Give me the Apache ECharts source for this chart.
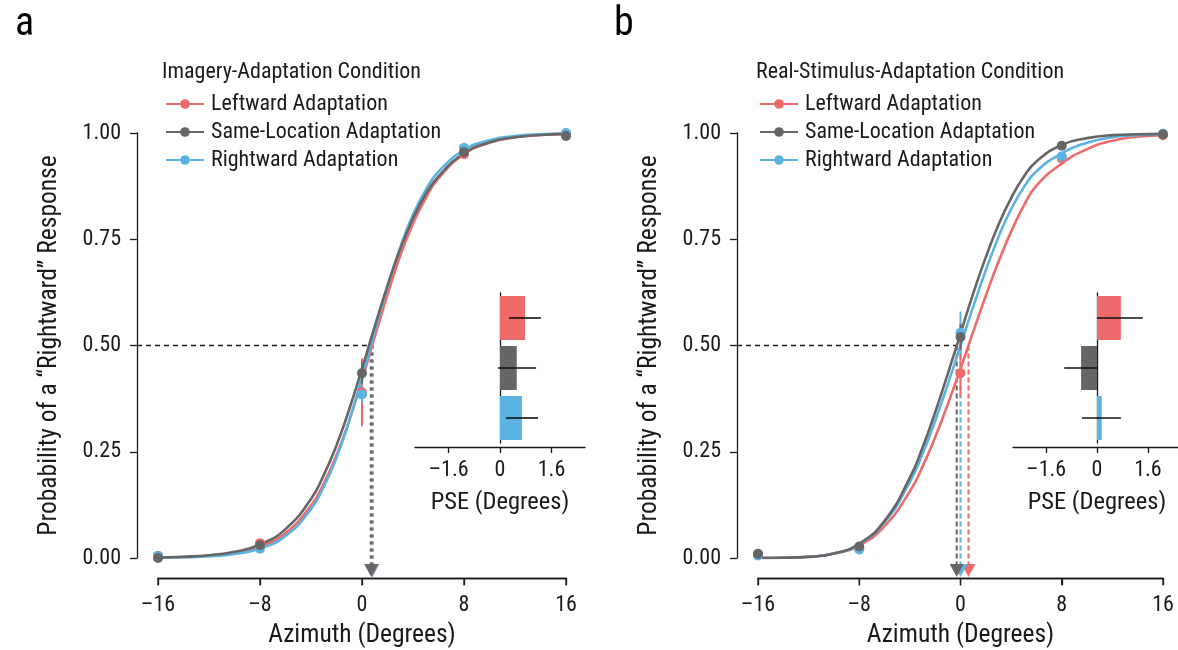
<!DOCTYPE html>
<html><head><meta charset="utf-8">
<script src="https://cdn.jsdelivr.net/npm/echarts@6/dist/echarts.min.js"></script>
<style>html,body{margin:0;padding:0;background:#fff}#c{width:1178px;height:650px}</style>
</head><body><div id="c"></div>
<script>
// ---------- data ----------
const conditions = ['Leftward Adaptation', 'Same-Location Adaptation', 'Rightward Adaptation'];
const colors = ['#ef6a6a', '#666666', '#5ab3e3'];
const xTicks = [-16, -8, 0, 8, 16];
const yTicks = [0, 0.25, 0.5, 0.75, 1];
const pseTicks = [-1.6, 0, 1.6];

const curveX = [-16,-14,-12,-10,-8,-6,-4,-3,-2,-1,0,1,2,3,4,5,6,8,10,12,14,16];
// panel a (imagery adaptation) fitted curves
const aCurveLeft  = [0.001,0.0024,0.0054,0.012,0.0268,0.0586,0.1236,0.175,0.242,0.324,0.419,0.520,0.620,0.711,0.787,0.847,0.893,0.950,0.977,0.990,0.9955,0.998];
const aCurveSame  = [0.0013,0.003,0.0066,0.0145,0.0317,0.068,0.139,0.195,0.265,0.350,0.445,0.545,0.641,0.727,0.799,0.856,0.898,0.952,0.978,0.990,0.9954,0.998];
const aCurveRight = [0.0007,0.0017,0.004,0.0095,0.0223,0.0516,0.115,0.167,0.236,0.323,0.425,0.533,0.638,0.731,0.808,0.866,0.909,0.960,0.983,0.9927,0.9969,0.9987];
// panel b (real-stimulus adaptation) fitted curves
const bCurveLeft  = [0.0001,0.0007,0.003,0.0104,0.030,0.075,0.157,0.215,0.284,0.362,0.445,0.532,0.617,0.697,0.768,0.829,0.876,0.928,0.962,0.982,0.991,0.995];
const bCurveSame  = [0.0001,0.0006,0.0026,0.0104,0.0336,0.0874,0.189,0.260,0.343,0.434,0.528,0.622,0.708,0.784,0.847,0.897,0.933,0.972,0.988,0.995,0.997,0.998];
const bCurveRight = [0.0001,0.0006,0.0029,0.0107,0.033,0.084,0.179,0.245,0.323,0.409,0.500,0.591,0.677,0.755,0.821,0.872,0.910,0.952,0.977,0.990,0.995,0.997];

const pointX = [-16, -8, 0, 8, 16];
const aPtLeft  = [0.005, 0.035, 0.39, 0.95, 0.998];
const aPtSame  = [0.0, 0.03, 0.435, 0.955, 0.993];
const aPtRight = [0.005, 0.022, 0.385, 0.965, 1.0];
const aErrLeft  = [0, 0.01, 0.08, 0.01, 0];
const aErrSame  = [0, 0.005, 0.025, 0.005, 0];
const aErrRight = [0, 0.005, 0.02, 0.012, 0];
const bPtLeft  = [0.008, 0.022, 0.435, 0.94, 0.995];
const bPtSame  = [0.01, 0.027, 0.52, 0.97, 0.997];
const bPtRight = [0.006, 0.02, 0.53, 0.945, 0.998];
const bErrLeft  = [0, 0.008, 0.055, 0.015, 0];
const bErrSame  = [0, 0.005, 0.03, 0.005, 0];
const bErrRight = [0, 0.005, 0.05, 0.01, 0];

// PSE arrows on main plots (azimuth at 50%)
const aArrowX = [0.82, 0.72, 0.78];
const bArrowX = [0.63, -0.30, 0.0];
// inset PSE bars and error ranges
const aPSE = [0.78, 0.52, 0.68];
const aPSELo = [0.28, -0.06, 0.19];
const aPSEHi = [1.27, 1.12, 1.18];
const bPSE = [0.75, -0.50, 0.15];
const bPSELo = [0.0, -1.03, -0.47];
const bPSEHi = [1.44, 0.0, 0.75];

// ---------- helpers ----------
const FONT = "'Liberation Sans Narrow','Arial Narrow','Roboto Condensed','Liberation Sans',sans-serif";
const TXT = '#1a1a1a';
const X_OFF = 20, Y_OFF = 21;
const dashFmt = v => String(v).replace('-', '\u2013');
const zip = (xs, ys) => xs.map((x, i) => [x, ys[i]]);
const errData = (xs, ys, es) => xs.map((x, i) => [x, ys[i] - es[i], ys[i] + es[i]]).filter((d, i) => es[i] > 0);

function mainXAxis(gi) {
  return {
    type: 'value', gridIndex: gi, min: xTicks[0], max: xTicks[xTicks.length - 1], interval: 8, offset: X_OFF, position: 'bottom',
    axisLine: { show: true, onZero: false, lineStyle: { color: TXT, width: 1.3 } },
    axisTick: { show: true, length: 7, lineStyle: { color: TXT, width: 1.3 } },
    splitLine: { show: false },
    axisLabel: { fontFamily: FONT, fontSize: 22, color: TXT, margin: 16, formatter: dashFmt },
    name: 'Azimuth (Degrees)', nameLocation: 'middle', nameGap: 45,
    nameTextStyle: { fontFamily: FONT, fontSize: 25.5, color: TXT }
  };
}
function mainYAxis(gi) {
  return {
    type: 'value', gridIndex: gi, min: 0, max: 1, interval: 0.25, offset: Y_OFF, position: 'left',
    axisLine: { show: true, onZero: false, lineStyle: { color: TXT, width: 1.3 } },
    axisTick: { show: true, length: 7, lineStyle: { color: TXT, width: 1.3 } },
    splitLine: { show: false },
    axisLabel: { fontFamily: FONT, fontSize: 22, color: TXT, margin: 16, formatter: v => v.toFixed(2) },
    name: 'Probability of a \u201CRightward\u201D Response', nameLocation: 'middle', nameGap: 74,
    nameTextStyle: { fontFamily: FONT, fontSize: 25.5, color: TXT }
  };
}
function insetXAxis(gi) {
  return {
    type: 'value', gridIndex: gi, min: -2.64, max: 2.64, offset: 4, position: 'bottom',
    axisLine: { show: true, onZero: false, lineStyle: { color: TXT, width: 1.3 } },
    axisTick: { show: true, length: 6, customValues: pseTicks, lineStyle: { color: TXT, width: 1.3 } },
    splitLine: { show: false },
    axisLabel: { fontFamily: FONT, fontSize: 22, color: TXT, margin: 12, customValues: pseTicks, formatter: dashFmt },
    name: 'PSE (Degrees)', nameLocation: 'middle', nameGap: 43,
    nameTextStyle: { fontFamily: FONT, fontSize: 24.5, color: TXT }
  };
}
function insetYAxis(gi) {
  return {
    type: 'category', gridIndex: gi, data: conditions, inverse: true,
    axisLine: { show: true, onZero: true, lineStyle: { color: TXT, width: 1.3 } },
    axisTick: { show: false }, axisLabel: { show: false }, splitLine: { show: false }
  };
}

// draws the offset x-axis baseline and tick marks of a main panel through the axis scale
function xAxisLineSeries(gi) {
  return {
    type: 'custom', name: 'xaxis' + gi, xAxisIndex: gi, yAxisIndex: gi, z: 6, silent: true, clip: false,
    data: xTicks.map(v => [v, 0]),
    renderItem: function (params, api) {
      const p = api.coord([api.value(0), api.value(1)]);
      const y = Math.round(p[1] + X_OFF) + 0.5;
      const children = [{ type: 'line', shape: { x1: p[0], y1: y, x2: p[0], y2: y + 7 },
        style: { stroke: TXT, lineWidth: 1.3 } }];
      if (params.dataIndex === 0) {
        const q = api.coord([xTicks[xTicks.length - 1], 0]);
        children.push({ type: 'line', shape: { x1: p[0] - 0.6, y1: y, x2: q[0] + 0.6, y2: y },
          style: { stroke: TXT, lineWidth: 1.3 } });
      }
      return { type: 'group', children: children };
    }
  };
}
function curveSeries(gi, name, ys, ci) {
  return {
    type: 'line', name: name, xAxisIndex: gi, yAxisIndex: gi,
    data: zip(curveX, ys), smooth: true,
    symbol: 'circle', symbolSize: 9, showSymbol: false,
    lineStyle: { color: colors[ci], width: 2.6 }, itemStyle: { color: colors[ci] },
    z: 3, silent: true
  };
}
function pointSeries(gi, ys, ci) {
  return {
    type: 'scatter', name: 'pts' + gi + ci, xAxisIndex: gi, yAxisIndex: gi,
    data: zip(pointX, ys), symbolSize: 10, itemStyle: { color: colors[ci], opacity: 1 }, z: 4, silent: true
  };
}
function errSeries(gi, ys, es, ci) {
  return {
    type: 'custom', name: 'err' + gi + ci, xAxisIndex: gi, yAxisIndex: gi, z: 4, silent: true,
    data: errData(pointX, ys, es),
    renderItem: function (params, api) {
      const p1 = api.coord([api.value(0), api.value(1)]);
      const p2 = api.coord([api.value(0), api.value(2)]);
      return { type: 'line', shape: { x1: p1[0], y1: p1[1], x2: p2[0], y2: p2[1] },
        style: { stroke: colors[ci], lineWidth: 2 } };
    }
  };
}
function arrowSeries(gi, xs, dash, width) {
  const order = [0, 2, 1];
  return {
    type: 'custom', name: 'arrows' + gi, xAxisIndex: gi, yAxisIndex: gi, z: 2, silent: true, clip: false,
    data: order.map(i => [xs[i], i]),
    renderItem: function (params, api) {
      const x = api.value(0), c = colors[api.value(1)];
      const top = api.coord([x, 0.5]), base = api.coord([x, 0]);
      const tip = base[1] + X_OFF - 1, hh = 13, hw = 7;
      return { type: 'group', children: [
        { type: 'line', shape: { x1: top[0], y1: top[1], x2: top[0], y2: tip - hh },
          style: { stroke: c, lineWidth: width, lineDash: dash } },
        { type: 'polygon', shape: { points: [[top[0] - hw, tip - hh], [top[0] + hw, tip - hh], [top[0], tip]] },
          style: { fill: c } }
      ] };
    }
  };
}
function refLineSeries(gi, xs) {
  return {
    type: 'custom', name: 'ref' + gi, xAxisIndex: gi, yAxisIndex: gi, z: 1, silent: true, clip: false,
    data: [[Math.min.apply(null, xs), 0.5]],
    renderItem: function (params, api) {
      const end = api.coord([api.value(0), api.value(1)]);
      const start = api.coord([xTicks[0], 0.5]);
      return { type: 'line', shape: { x1: start[0] - Y_OFF, y1: end[1], x2: end[0], y2: end[1] },
        style: { stroke: TXT, lineWidth: 1.3, lineDash: [5, 4] } };
    }
  };
}
function barSeries(gi, vals) {
  return {
    type: 'bar', name: 'pse' + gi, xAxisIndex: gi, yAxisIndex: gi, barWidth: 44, silent: true,
    data: vals.map((v, i) => ({ value: v, itemStyle: { color: colors[i] } })), z: 2
  };
}
function pseErrSeries(gi, lo, hi) {
  return {
    type: 'custom', name: 'pseerr' + gi, xAxisIndex: gi, yAxisIndex: gi, z: 5, silent: true,
    data: lo.map((l, i) => [l, hi[i], i]), encode: { x: [0, 1], y: 2 },
    renderItem: function (params, api) {
      const p1 = api.coord([api.value(0), api.value(2)]);
      const p2 = api.coord([api.value(1), api.value(2)]);
      return { type: 'line', shape: { x1: p1[0], y1: p1[1], x2: p2[0], y2: p2[1] },
        style: { stroke: '#111', lineWidth: 1.6 } };
    }
  };
}
function legendAt(left) {
  return {
    data: conditions, orient: 'vertical', left: left, top: 88, itemWidth: 38, itemHeight: 12, itemGap: 6,
    selectedMode: false, textStyle: { fontFamily: FONT, fontSize: 22, color: TXT, padding: [0, 0, 0, 2] }
  };
}
const gridBase = { outerBoundsMode: 'none', containLabel: false };

const option = {
  animation: false,
  backgroundColor: '#fff',
  title: [
    { text: 'a', left: 10, top: 0, textStyle: { fontFamily: FONT, fontSize: 40, fontWeight: 'normal', color: '#000' } },
    { text: 'b', left: 609, top: 0, textStyle: { fontFamily: FONT, fontSize: 40, fontWeight: 'normal', color: '#000' } },
    { text: 'Imagery-Adaptation Condition', left: 157, top: 56, textStyle: { fontFamily: FONT, fontSize: 22, fontWeight: 'normal', color: TXT } },
    { text: 'Real-Stimulus-Adaptation Condition', left: 751, top: 56, textStyle: { fontFamily: FONT, fontSize: 22, fontWeight: 'normal', color: TXT } }
  ],
  legend: [legendAt(160), legendAt(754)],
  grid: [
    Object.assign({ left: 158, top: 133, width: 408, height: 425 }, gridBase),
    Object.assign({ left: 758, top: 133, width: 405, height: 425 }, gridBase),
    Object.assign({ left: 415, top: 293, width: 170, height: 150 }, gridBase),
    Object.assign({ left: 1013, top: 293, width: 168, height: 150 }, gridBase)
  ],
  xAxis: [mainXAxis(0), mainXAxis(1), insetXAxis(2), insetXAxis(3)],
  yAxis: [mainYAxis(0), mainYAxis(1), insetYAxis(2), insetYAxis(3)],
  series: [
    xAxisLineSeries(0), xAxisLineSeries(1),
    refLineSeries(0, aArrowX), refLineSeries(1, bArrowX),
    arrowSeries(0, aArrowX, [3, 4], 3), arrowSeries(1, bArrowX, [5, 3], 2),
    curveSeries(0, conditions[0], aCurveLeft, 0),
    curveSeries(0, conditions[2], aCurveRight, 2),
    curveSeries(0, conditions[1], aCurveSame, 1),
    curveSeries(1, conditions[0], bCurveLeft, 0),
    curveSeries(1, conditions[2], bCurveRight, 2),
    curveSeries(1, conditions[1], bCurveSame, 1),
    errSeries(0, aPtLeft, aErrLeft, 0), errSeries(0, aPtRight, aErrRight, 2), errSeries(0, aPtSame, aErrSame, 1),
    errSeries(1, bPtLeft, bErrLeft, 0), errSeries(1, bPtRight, bErrRight, 2), errSeries(1, bPtSame, bErrSame, 1),
    pointSeries(0, aPtLeft, 0), pointSeries(0, aPtRight, 2), pointSeries(0, aPtSame, 1),
    pointSeries(1, bPtLeft, 0), pointSeries(1, bPtRight, 2), pointSeries(1, bPtSame, 1),
    barSeries(2, aPSE), barSeries(3, bPSE),
    pseErrSeries(2, aPSELo, aPSEHi), pseErrSeries(3, bPSELo, bPSEHi)
  ]
};
const chart = echarts.init(document.getElementById('c'), null, { renderer: 'canvas' });
chart.setOption(option);
</script>
</body></html>
